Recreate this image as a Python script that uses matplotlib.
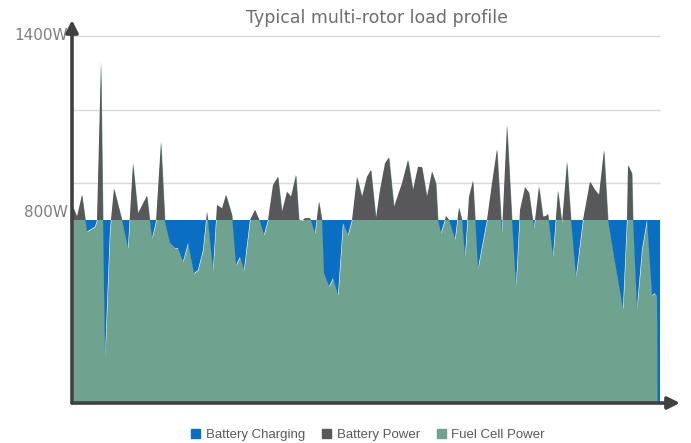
import numpy as np
import matplotlib.pyplot as plt
from matplotlib.patches import Patch

# load profile (time in arbitrary units, power in W)
time_s = [1, 5, 10, 15, 23, 25, 29, 31, 33, 38, 42, 50, 56, 61, 66, 75, 80, 84, 89, 93,
          98, 103, 106, 111, 116, 122, 126, 131, 135, 141, 145, 150, 154, 160, 164, 168, 172, 178, 183, 188,
          192, 196, 201, 206, 210, 215, 219, 224, 227, 230, 233, 238, 243, 247, 250, 252, 257, 261, 266, 271,
          276, 280, 285, 290, 295, 299, 304, 308, 313, 317, 322, 330, 336, 341, 346, 350, 355, 360, 364, 366,
          369, 374, 377, 383, 387, 390, 393, 397, 401, 406, 415, 420, 425, 430, 435, 440, 444, 448, 453, 457,
          462, 467, 471, 474, 476, 481, 486, 490, 495, 499, 504, 511, 518, 523, 527, 532, 536, 542, 551, 555,
          556, 560, 561, 565, 570, 575, 580, 583, 585, 586, 588]
load_w = [843, 811, 882, 762, 778, 800, 1316, 800, 354, 767, 903, 800, 708, 985, 822, 879, 740, 794, 1055, 794,
          724, 708, 708, 664, 724, 626, 637, 702, 827, 637, 849, 838, 882, 816, 653, 680, 637, 800, 833, 794,
          751, 800, 914, 941, 827, 892, 876, 947, 802, 798, 806, 806, 757, 860, 800, 626, 583, 610, 555, 789,
          751, 800, 941, 876, 941, 963, 806, 898, 985, 1004, 843, 920, 996, 898, 974, 972, 876, 958, 920, 800,
          757, 813, 800, 737, 841, 800, 679, 876, 928, 642, 800, 920, 1031, 757, 1110, 800, 583, 833, 907, 889,
          773, 909, 811, 813, 820, 680, 896, 789, 990, 800, 615, 800, 925, 898, 882, 1028, 800, 680, 510, 800,
          979, 952, 800, 512, 702, 800, 555, 561, 550, 0, 0]
fuel_cell_w = 800
grid_w = [1400, 1160, 920, 680, 440]
axis_labels = ["1400W", "800W"]
axis_label_w = [1400, 825]

BLUE = "#0a6fc2"
GREY = "#58585a"
GREEN = "#6fa38f"
AXIS = "#404040"

t = np.array(time_s, dtype=float)
p = np.array(load_w, dtype=float)

fig = plt.figure(figsize=(6.91, 4.43), dpi=100)
ax = fig.add_axes([72 / 691, 40 / 443, 608 / 691, 383 / 443])
ax.set_xlim(0, 608)
ax.set_ylim(203.3, 1452)

# light gridlines behind everything
ax.hlines(grid_w, 0, 588, colors="#d9d9d9", lw=1.0, zorder=0)

# fuel cell (green) up to the load, battery power (grey) above 800, charging (blue) below
ax.fill_between(t, 0, p, color=GREEN, lw=0, zorder=1)
ax.fill_between(t, fuel_cell_w, p, where=p > fuel_cell_w, interpolate=True, color=GREY, lw=0, zorder=2)
ax.fill_between(t, p, fuel_cell_w, where=p < fuel_cell_w, interpolate=True, color=BLUE, lw=0, zorder=2)

for s in ax.spines.values():
    s.set_visible(False)
ax.set_xticks([])
ax.set_yticks([])

# arrow axes
arrow = dict(arrowstyle="-|>", lw=2.6, color=AXIS, mutation_scale=18, shrinkA=0, shrinkB=0)
ax.annotate("", xy=(0, 1), xytext=(0, 0), xycoords="axes fraction", arrowprops=arrow, zorder=5)
ax.annotate("", xy=(1, 0), xytext=(0, 0), xycoords="axes fraction", arrowprops=arrow, zorder=5)

for lab, w in zip(axis_labels, axis_label_w):
    ax.text(-4, w, lab, ha="right", va="center", fontsize=11, color="#7f7f7f")

fig.text(377 / 691, 1 - 18 / 443, "Typical multi-rotor load profile", ha="center", va="center",
         fontsize=12.5, color="#6e6e6e")

handles = [Patch(color=BLUE, label="Battery Charging"),
           Patch(color=GREY, label="Battery Power"),
           Patch(color=GREEN, label="Fuel Cell Power")]
fig.legend(handles=handles, loc="center", bbox_to_anchor=(368 / 691, 1 - 435 / 443), ncol=3,
           frameon=False, handlelength=0.7, handleheight=0.7, handletextpad=0.4, columnspacing=1.3,
           prop={"family": "Liberation Sans", "size": 9.5}, labelcolor="#595959")

fig.savefig("out.png", dpi=100)
